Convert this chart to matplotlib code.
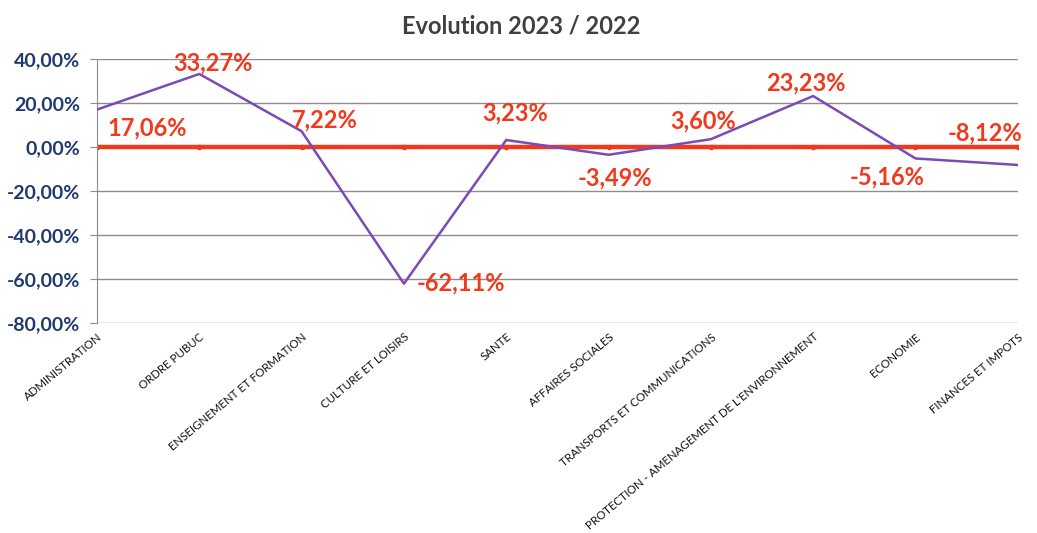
import matplotlib
matplotlib.use("Agg")
import matplotlib.pyplot as plt
from matplotlib.ticker import FuncFormatter

categories = ["ADMINISTRATION", "ORDRE PUBUC", "ENSEIGNEMENT ET FORMATION", "CULTURE ET LOISIRS",
              "SANTE", "AFFAIRES SOCIALES", "TRANSPORTS ET COMMUNICATIONS",
              "PROTECTION - AMENAGEMENT DE L'ENVIRONNEMENT", "ECONOMIE", "FINANCES ET IMPOTS"]
evolution = [17.06, 33.27, 7.22, -62.11, 3.23, -3.49, 3.60, 23.23, -5.16, -8.12]
baseline = [0, 0, 0, 0, 0, 0, 0, 0, 0, 0]
yticks = [40, 20, 0, -20, -40, -60, -80]

# label placement (offsets in data units relative to each point)
label_dx = [0.49, 0.13, 0.23, 0.56, 0.09, 0.06, -0.08, -0.07, -0.28, -0.32]
label_dy = [-8.5, 5.0, 5.1, 0.3, 12.3, -10.6, 8.2, 5.9, -8.4, 14.5]

fig = plt.figure(figsize=(10.37, 5.33), dpi=100)
ax = fig.add_axes([0.0935, 0.394, 0.888, 0.495])

x = list(range(len(categories)))
ax.plot(x, evolution, color="#7B4AB5", lw=1.8, zorder=3)
ax.plot(x, baseline, color="#F03A1E", lw=3.2, marker="o", ms=3, zorder=2)

for i, v in enumerate(evolution):
    s = f"{v:.2f}".replace(".", ",") + "%"
    ax.text(i + label_dx[i], v + label_dy[i], s, color="#F03A1E", fontsize=17,
            fontweight="bold", family="Lato", ha="center", va="center", zorder=4)

ax.set_xlim(0, len(categories) - 1)
ax.set_ylim(-80, 40)
ax.set_yticks(yticks)
ax.yaxis.set_major_formatter(FuncFormatter(lambda v, p: f"{v:.2f}".replace(".", ",") + "%"))
ax.grid(axis="y", color="#8C8C8C", lw=1.0)
ax.set_axisbelow(True)
for sp in ["top", "right", "bottom"]:
    ax.spines[sp].set_visible(False)
ax.spines["left"].set_color("#8C8C8C")
ax.tick_params(axis="y", colors="#8C8C8C", length=5, pad=7)
for t in ax.get_yticklabels():
    t.set_color("#1F3A6E")
    t.set_fontweight("bold")
    t.set_fontsize(14)
    t.set_family("Lato")

ax.set_xticks(x)
ax.set_xticklabels(categories, rotation=40, ha="right", rotation_mode="anchor",
                   fontsize=8.3, family="Lato", color="#111111")
ax.tick_params(axis="x", length=0, pad=6)

fig.text(0.503, 0.952, "Evolution 2023 / 2022", ha="center", va="center",
         fontsize=17, fontweight="bold", color="#404040", family="Lato")

fig.savefig("out.png", dpi=100, facecolor="white")
